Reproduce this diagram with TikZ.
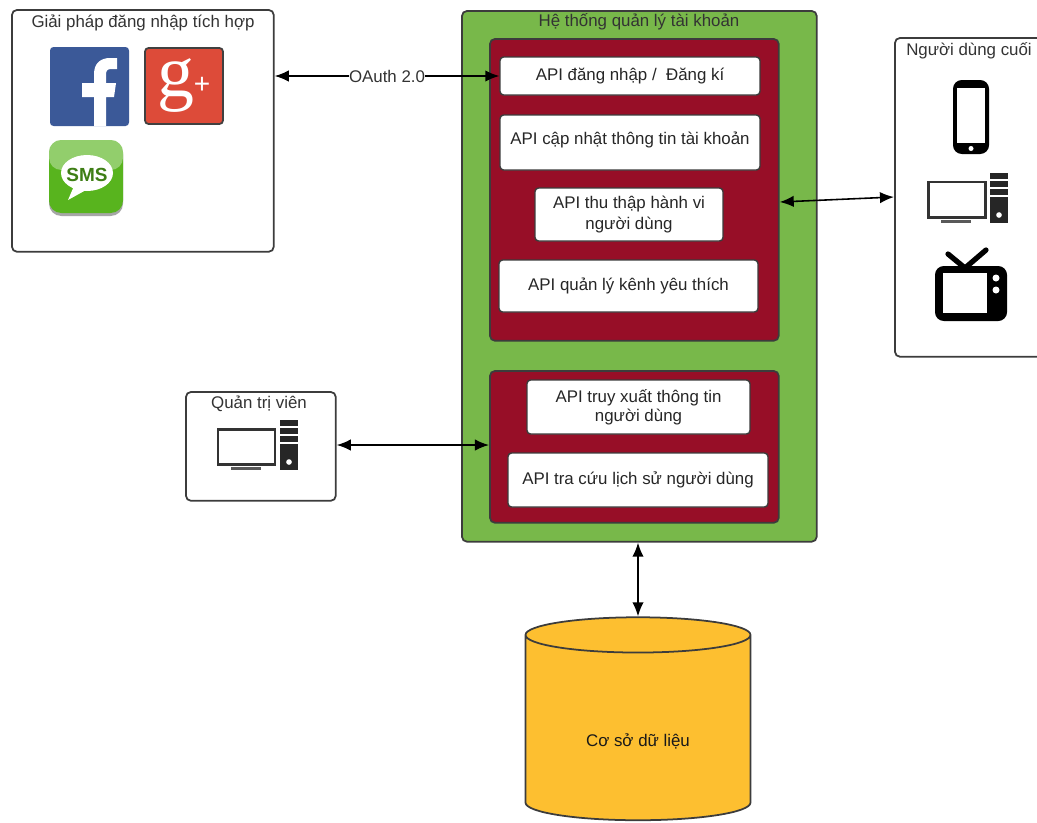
\documentclass[tikz,border=0pt]{standalone}
\usepackage{fontspec}
\setmainfont{Liberation Sans}
\newfontfamily\logofont{Liberation Serif}
\usetikzlibrary{arrows.meta,shapes.geometric}

\definecolor{greenbox}{HTML}{78B84A}
\definecolor{redbox}{HTML}{970E27}
\definecolor{dbcolor}{HTML}{FDBF30}
\definecolor{linecolor}{HTML}{3C3C3C}
\definecolor{fbblue}{HTML}{3B5998}
\definecolor{gpred}{HTML}{DD4B39}
\definecolor{smsgreen}{HTML}{58B41E}

\tikzset{
  plainbox/.style={draw=linecolor,fill=white,line width=1pt,rounded corners=3pt,anchor=north west,inner sep=0pt},
  greenpanel/.style={plainbox,fill=greenbox},
  redpanel/.style={plainbox,fill=redbox},
  apibox/.style={draw=linecolor,fill=white,line width=.8pt,rounded corners=2pt,align=center,font=\fontsize{9.6}{12}\selectfont,text=black!85,inner sep=0pt},
  title/.style={font=\fontsize{9.6}{11}\selectfont,text=black!80,inner sep=0pt},
  logotext/.style={white,inner sep=0pt},
  link/.style={{Latex[length=8pt,width=6.5pt]}-{Latex[length=8pt,width=6.5pt]},line width=.9pt,black},
  desktop/.pic={
    \draw [line width=1.7pt,draw=black!80,fill=white] (-36,-6) rectangle (21,29);
    \fill [black!65] (-23,32) rectangle (7,35);
    \fill [black!85] (26,-15) rectangle (44,35);
    \foreach \y in {-8,0,8}
      \draw [white,line width=.7pt] (26,\y) -- (44,\y);
    \fill [white] (35,27) circle (1.6pt);
  }
}

\begin{document}
\begin{tikzpicture}[x=.02cm,y=-.02cm]
  \useasboundingbox (0,0) rectangle (1037,822);

  % outer boxes
  \node (sso) at (11,9) [plainbox,minimum width=5.24cm,minimum height=4.84cm] {};
  \node (users) at (894,37) [plainbox,minimum width=3.2cm,minimum height=6.38cm] {};
  \node (admin) at (185,391) [plainbox,minimum width=3cm,minimum height=2.18cm] {};
  \node (system) at (461,10) [greenpanel,minimum width=7.1cm,minimum height=10.62cm] {};
  \node (top) at (489,38) [redpanel,minimum width=5.78cm,minimum height=6.04cm] {};
  \node (bottom) at (489,370) [redpanel,minimum width=5.78cm,minimum height=3.04cm] {};

  \node (ssoTitle) at (143,23) [title] {Giải pháp đăng nhập tích hợp};
  \node (usersTitle) at (969,51) [title] {Người dùng cuối};
  \node (adminTitle) at (259,404) [title] {Quản trị viên};
  \node (systemTitle) at (639,22) [title] {Hệ thống quản lý tài khoản};

  % api boxes
  \node (login) at (630,76) [apibox,minimum width=5.2cm,minimum height=.76cm] {API đăng nhập /\ \ Đăng kí};
  \node (update) at (630,142.5) [apibox,text depth=5pt,minimum width=5.2cm,minimum height=1.1cm] {API cập nhật thông tin tài khoản};
  \node (behavior) at (629,214.5) [apibox,minimum width=3.76cm,minimum height=1.06cm] {API thu thập hành vi\\người dùng};
  \node (favorite) at (628.5,286) [apibox,minimum width=5.18cm,minimum height=1.04cm] {API quản lý kênh yêu thích};
  \node (search) at (638.5,407) [apibox,minimum width=4.46cm,minimum height=1.08cm] {API truy xuất thông tin\\[-1pt]người dùng};
  \node (history) at (638,480) [apibox,minimum width=5.2cm,minimum height=1.08cm] {API tra cứu lịch sử người dùng};

  \node (db) at (638,728) [cylinder,shape border rotate=90,aspect=.34,draw=linecolor,fill=dbcolor,line width=1pt,
    cylinder uses custom fill,cylinder body fill=dbcolor,cylinder end fill=dbcolor,
    minimum width=4.5cm,minimum height=4.06cm,inner sep=0pt,font=\fontsize{9.6}{11}\selectfont] {\phantom{Cơ sở dữ liệu}};
  \node (dbLabel) at (638,741) [title,text=black!90] {Cơ sở dữ liệu};

  % logos
  \fill [fbblue,rounded corners=2pt] (50,47) rectangle (129,126);
  \fill [white] (94,126) -- (94,97) -- (82,97) -- (82,83) -- (94,83) -- (94,74) .. controls (94,63) and (101,58) .. (110,58)
    -- (117,58) -- (117,69) -- (111,69) .. controls (107,69) and (106,71) .. (106,75) -- (106,83) -- (116,83) -- (114,97) -- (106,97) -- (106,126) -- cycle;
  \draw [black!75,fill=gpred,line width=1pt,rounded corners=2pt] (145,48) rectangle (223,124);
  \node (gLetter) at (176,86) [logotext,font=\logofont\fontsize{42}{42}\selectfont] {g};
  \node (gPlus) at (202,85) [logotext,font=\fontsize{16}{16}\selectfont] {+};
  \fill [black!35,rounded corners=7pt] (49,142) rectangle (123,216);
  \fill [smsgreen,rounded corners=7pt] (49,140) rectangle (123,213);
  \fill [white,opacity=.35,rounded corners=7pt] (49,140) rectangle (123,170);
  \fill [white] (87,173) ellipse (26 and 18);
  \fill [white] (74,186) -- (68,200) -- (86,190) -- cycle;
  \node (smsText) at (87,175) [logotext,text=smsgreen!70!black,font=\bfseries\fontsize{10.8}{11}\selectfont] {SMS};

  % user icons
  \fill [black,rounded corners=5pt] (953,80) rectangle (989,154);
  \fill [white] (957,88) rectangle (985,143);
  \fill [white] (971,148.5) circle (2.5);
  \pic at (964,188) {desktop};
  \pic at (254,435) {desktop};
  \draw [black,line width=3pt,line cap=round] (965,268) -- (948,254);
  \draw [black,line width=3pt,line cap=round] (965,268) -- (986,250);
  \fill [black,rounded corners=5pt] (935,266) rectangle (1007,321);
  \fill [white] (943,273) rectangle (987,313);
  \fill [white] (996,278) circle (3.5);
  \fill [white] (996,290) circle (3.5);

  % arrows
  \coordinate (ssoEnd) at (sso.east |- login.west);
  \coordinate (usersEnd) at (894,197);
  \coordinate (adminEnd) at (admin.east |- 0,445);
  \coordinate (bottomEnd) at (bottom.west |- 0,445);
  \coordinate (topEnd) at (top.east |- 0,202);
  \draw [link] (ssoEnd) -- (login.west) node (oauth) [pos=.5,fill=white,inner sep=0pt,font=\fontsize{9.6}{11}\selectfont,text=black!80] {OAuth 2.0};
  \draw [link] (topEnd) -- (usersEnd);
  \draw [link] (adminEnd) -- (bottomEnd);
  \draw [link] (system.south -| db.north) -- (db.north);
\end{tikzpicture}
\end{document}
